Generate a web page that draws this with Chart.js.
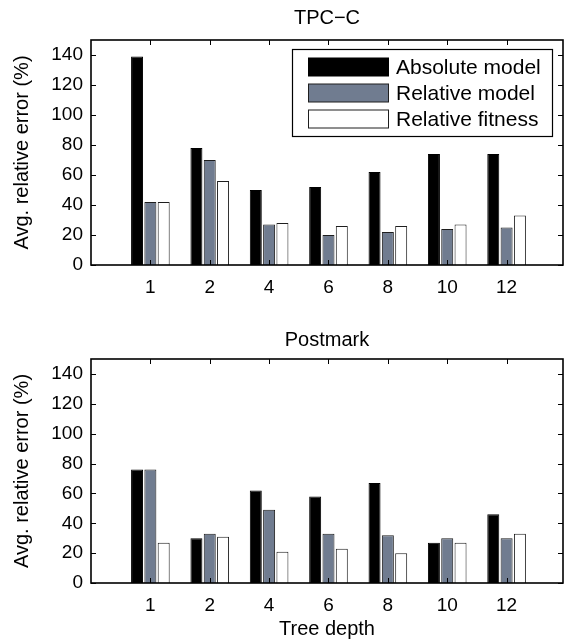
<!DOCTYPE html>
<html>
<head>
<meta charset="utf-8">
<script src="https://cdn.jsdelivr.net/npm/chart.js@4.4.1/dist/chart.umd.min.js"></script>
<style>
  body { margin: 0; background: #fff; }
  #wrap { position: relative; width: 566px; height: 641px; }
  .panel { position: absolute; left: 0; }
</style>
</head>
<body>
<div id="wrap">
  <div class="panel" style="top:0"><canvas id="tpccChart" width="566" height="320"></canvas></div>
  <div class="panel" style="top:320px"><canvas id="postmarkChart" width="566" height="321"></canvas></div>
</div>
<script>
// Tree depths on the x axis (placed at positions 1..7)
const depthLabels = ["1", "2", "4", "6", "8", "10", "12"];
const depthPositions = [1, 2, 3, 4, 5, 6, 7];
const yTicks = [0, 20, 40, 60, 80, 100, 120, 140];
const seriesNames = ["Absolute model", "Relative model", "Relative fitness"];

// TPC-C values (%)
const tpccAbsolute = [139, 78, 50, 52, 62, 74, 74];
const tpccRelModel = [42, 70, 27, 20, 22, 24, 25];
const tpccRelFitness = [42, 56, 28, 26, 26, 27, 33];

// Postmark values (%)
const postAbsolute = [76, 30, 62, 58, 67, 27, 46];
const postRelModel = [76, 33, 49, 33, 32, 30, 30];
const postRelFitness = [27, 31, 21, 23, 20, 27, 33];

const FONT = "'Liberation Sans', Arial, Helvetica, sans-serif";
const fills = ["#000000", "#707c90", "#ffffff"];
const edges = ["#000000", "#1e1e1e", "#1e1e1e"];

// Box round the plot with inward ticks, plus the legend box (MATLAB look)
const matlabBox = {
  id: "matlabBox",
  afterDatasetsDraw(chart, args, opts) {
    const { ctx, chartArea: a, scales } = chart;
    ctx.save();
    ctx.strokeStyle = "#000";
    ctx.lineWidth = 1;
    ctx.beginPath();
    scales.x.ticks.forEach(t => {
      const px = Math.round(scales.x.getPixelForValue(t.value)) + 0.5;
      ctx.moveTo(px, a.top); ctx.lineTo(px, a.top + 5);
      ctx.moveTo(px, a.bottom); ctx.lineTo(px, a.bottom - 5);
    });
    scales.y.ticks.forEach(t => {
      const py = Math.round(scales.y.getPixelForValue(t.value)) + 0.5;
      ctx.moveTo(a.left, py); ctx.lineTo(a.left + 5, py);
      ctx.moveTo(a.right, py); ctx.lineTo(a.right - 5, py);
    });
    ctx.stroke();
    ctx.lineWidth = 1.6;
    ctx.strokeRect(a.left, a.top, a.right - a.left, a.bottom - a.top);

    if (opts.legend) {
      const bx = 292.5, by = 49.5, bw = 260, bh = 87;
      ctx.fillStyle = "#fff";
      ctx.fillRect(bx, by, bw, bh);
      ctx.lineWidth = 1.2;
      ctx.strokeRect(bx, by, bw, bh);
      ctx.font = "21px " + FONT;
      ctx.textBaseline = "middle";
      ctx.textAlign = "left";
      chart.data.datasets.forEach((ds, i) => {
        const cy = by + 17.5 + i * 26;
        ctx.fillStyle = ds.backgroundColor;
        ctx.fillRect(308.5, cy - 9, 80, 18);
        ctx.lineWidth = 1;
        ctx.strokeStyle = ds.borderColor;
        ctx.strokeRect(308.5, cy - 9, 80, 18);
        ctx.fillStyle = "#000";
        ctx.fillText(ds.label, 396, cy + 1);
      });
    }
    ctx.restore();
  }
};

function makeDatasets(groups) {
  return groups.map((vals, i) => ({
    label: seriesNames[i],
    data: vals.map((v, j) => ({ x: depthPositions[j], y: v })),
    backgroundColor: fills[i],
    borderColor: edges[i],
    borderWidth: 1,
    categoryPercentage: 0.673,
    barPercentage: 0.9
  }));
}

function makeChart(canvasId, title, groups, cfg) {
  return new Chart(document.getElementById(canvasId), {
    type: "bar",
    data: { datasets: makeDatasets(groups) },
    options: {
      responsive: false,
      animation: false,
      layout: { padding: { left: 0, right: 3, top: 0, bottom: 0 } },
      plugins: {
        legend: { display: false },
        tooltip: { enabled: false },
        title: {
          display: true,
          fullSize: false,
          text: title,
          color: "#000",
          font: { family: FONT, size: 20, weight: "normal", lineHeight: 1.2 },
          padding: cfg.titlePadding
        },
        matlabBox: { legend: cfg.legend }
      },
      scales: {
        x: {
          type: "linear",
          offset: false,
          min: 0,
          max: 7.95,
          grid: { display: false, drawTicks: false, offset: false },
          border: { display: false },
          afterBuildTicks: s => { s.ticks = depthPositions.map(v => ({ value: v })); },
          afterFit: s => { s.height = cfg.xHeight; },
          ticks: {
            color: "#000",
            padding: 11,
            maxRotation: 0,
            font: { family: FONT, size: 19 },
            callback: v => depthLabels[depthPositions.indexOf(v)]
          },
          title: {
            display: cfg.xTitle,
            text: "Tree depth",
            color: "#000",
            font: { family: FONT, size: 20, lineHeight: 1.2 },
            padding: { top: 0, bottom: 0 }
          }
        },
        y: {
          min: 0,
          max: 150,
          grid: { display: false, drawTicks: false },
          border: { display: false },
          afterBuildTicks: s => { s.ticks = yTicks.map(v => ({ value: v })); },
          afterFit: s => { s.width = 91; },
          ticks: {
            color: "#000",
            padding: 8,
            font: { family: FONT, size: 19 }
          },
          title: {
            display: true,
            text: "Avg. relative error (%)",
            color: "#000",
            font: { family: FONT, size: 20, lineHeight: 1.2 },
            padding: { top: 10, bottom: 0 }
          }
        }
      }
    },
    plugins: [matlabBox]
  });
}

makeChart("tpccChart", "TPC\u2212C", [tpccAbsolute, tpccRelModel, tpccRelFitness],
  { titlePadding: { top: 6, bottom: 10 }, xHeight: 55, xTitle: false, legend: true });
makeChart("postmarkChart", "Postmark", [postAbsolute, postRelModel, postRelFitness],
  { titlePadding: { top: 8, bottom: 7 }, xHeight: 58, xTitle: true, legend: false });
</script>
</body>
</html>
